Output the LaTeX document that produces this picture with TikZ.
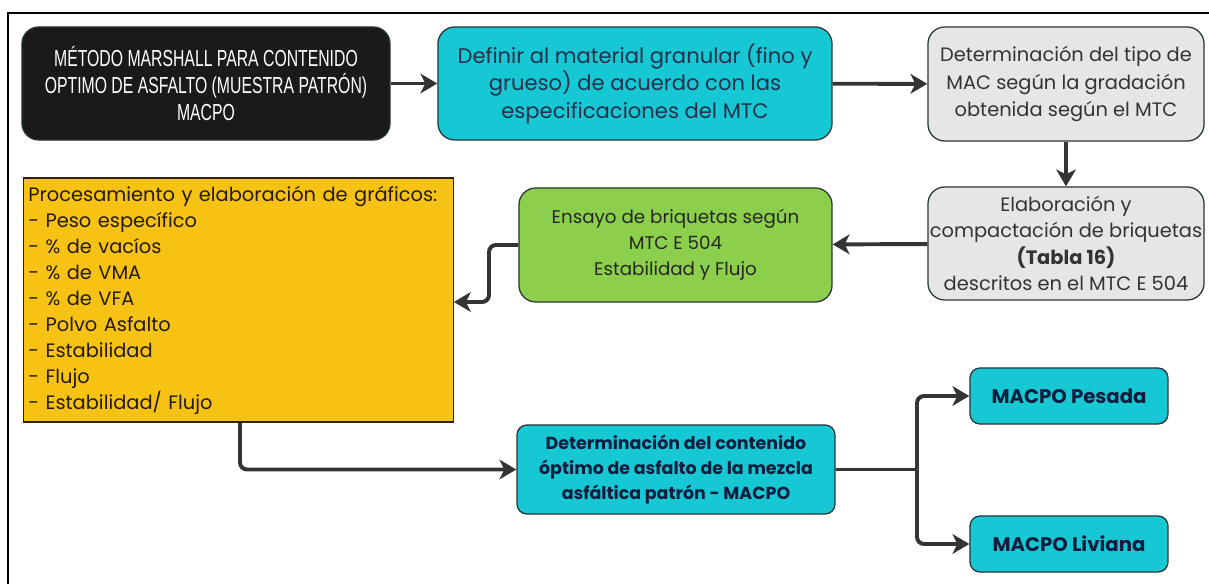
\documentclass[tikz,border=0pt]{standalone}
\usepackage{fontspec}
\setmainfont{Poppins}
\newfontfamily\narrowfont[FakeStretch=0.68]{Liberation Sans}
\usepackage{tikz}
\usetikzlibrary{arrows.meta}

\definecolor{boxcyan}{RGB}{22,200,212}
\definecolor{boxgray}{RGB}{230,230,230}
\definecolor{boxgreen}{RGB}{140,207,76}
\definecolor{boxyellow}{RGB}{246,195,20}
\definecolor{boxblack}{RGB}{26,26,26}
\definecolor{edgecol}{RGB}{40,52,56}
\definecolor{linkcol}{RGB}{52,52,52}
\definecolor{navy}{RGB}{14,28,62}

\begin{document}
\begin{tikzpicture}[x=0.025cm, y=-0.025cm,
        card/.style={draw=edgecol, line width=0.9pt, rounded corners=0.42cm, align=center,
            inner sep=1pt, font=\fontsize{13}{18.5}\selectfont},
        tag/.style={draw=edgecol, line width=0.9pt, rounded corners=0.25cm, align=center,
            fill=boxcyan, text=navy, inner sep=2pt, font=\fontsize{14}{18}\selectfont\bfseries},
        link/.style={draw=linkcol, line width=2.8pt, rounded corners=5pt,
            -{Stealth[length=12pt, width=14pt, inset=3.5pt]}}]
        % Page size and frame
        \useasboundingbox (0,0) rectangle (1209,584);
        \draw[line width=2pt] (8,584) -- (8,13) -- (1209,13);

        % Top row
        \node[card, fill=boxblack, text=white, minimum width=9.2cm, minimum height=2.825cm,
            font=\fontsize{16.5}{19.5}\narrowfont] (marshall) at (206,83.5)
            {MÉTODO MARSHALL PARA CONTENIDO\\OPTIMO DE ASFALTO (MUESTRA PATRÓN)\\MACPO};
        \node[card, fill=boxcyan, text=navy!80!gray, minimum width=9.85cm, minimum height=2.825cm,
            font=\fontsize{15}{19.5}\selectfont] (granular) at (635,83.5)
            {Definir al material granular (fino y\\grueso) de acuerdo con las\\especificaciones del MTC};
        \node[card, fill=boxgray, text=black!80, minimum width=6.9cm, minimum height=2.85cm,
            font=\fontsize{13.8}{19.5}\selectfont] (tipomac) at (1066,84)
            {Determinación del tipo de\\MAC según la gradación\\obtenida según el MTC};

        % Second row
        \node[card, fill=boxgray, text=black!80, minimum width=6.9cm, minimum height=2.825cm,
            font=\fontsize{13.8}{18.8}\selectfont] (briquetas) at (1066,243.5)
            {Elaboración y\\compactación de briquetas\\\textbf{(Tabla 16)}\\descritos en el MTC E 504};
        \node[card, fill=boxgreen, text=black!85, minimum width=7.825cm, minimum height=2.85cm] (ensayo) at (675.5,245)
            {Ensayo de briquetas según\\MTC E 504\\Estabilidad y Flujo};
        \node[draw=black!75!brown, line width=0.9pt, fill=boxyellow, text=black!80!brown, align=left,
            text width=10.5cm, minimum height=6.1cm, font=\fontsize{13.8}{18.5}\selectfont] (graficos) at (238.5,300)
            {Procesamiento y elaboración de gráficos:\\- Peso específico\\- \% de vacíos\\- \% de VMA\\- \% de VFA\\- Polvo Asfalto\\- Estabilidad\\- Flujo\\- Estabilidad/ Flujo};

        % Result and split
        \node[tag, minimum width=7.95cm, minimum height=2.225cm, font=\fontsize{12.4}{17.5}\selectfont\bfseries] (optimo) at (676,469.5)
            {Determinación del contenido\\óptimo de asfalto de la mezcla\\asfáltica patrón - MACPO};
        \node[tag, minimum width=4.95cm, minimum height=1.4cm] (pesada) at (1069,396) {MACPO Pesada};
        \node[tag, minimum width=4.95cm, minimum height=1.4cm] (liviana) at (1069,544) {MACPO Liviana};
        \coordinate (split) at (917,469.5);

        % Arrows
        \draw[link] (marshall) -- (granular);
        \draw[link] (granular) -- (tipomac);
        \draw[link] (tipomac) -- (briquetas);
        \draw[link] (briquetas) -- (ensayo);
        \draw[link] (ensayo.west) -| (489,302) -- (graficos.east |- 0,302);
        \draw[link] (graficos.south -| 240,0) |- (optimo.west);
        \draw[draw=linkcol, line width=2.8pt] (optimo.east) -- (split);
        \draw[link] (split) |- (pesada.west);
        \draw[link] (split) |- (liviana.west);
    \end{tikzpicture}
\end{document}
